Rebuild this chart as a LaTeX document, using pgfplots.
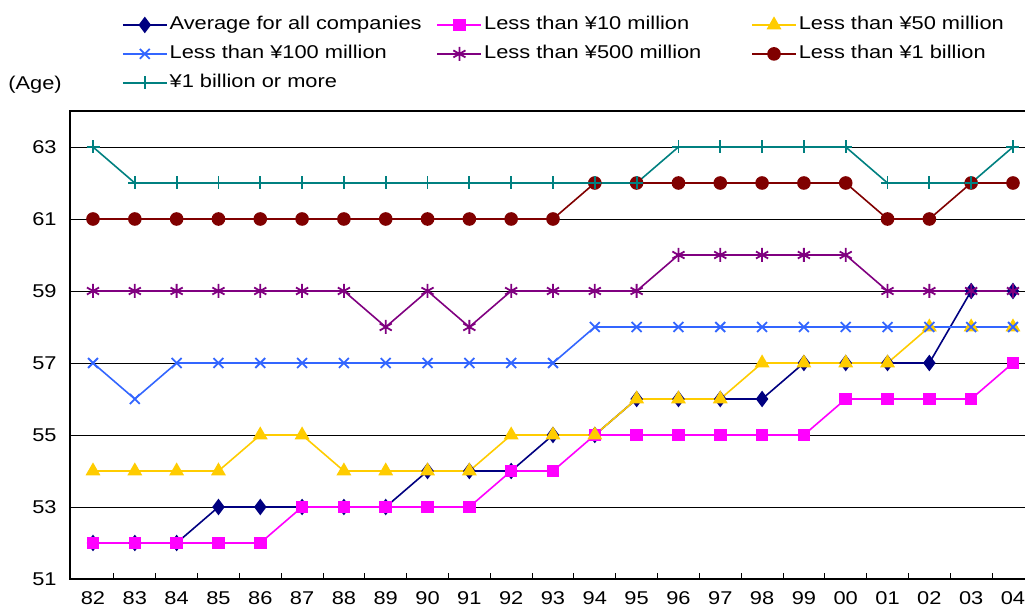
\documentclass[border=0pt]{standalone}
\usepackage{fontspec}
\setmainfont{Liberation Sans}[FakeStretch=1.18]
\usepackage{pgfplots}
\usepackage{pgfplotstable}
\pgfplotsset{compat=1.18}

\definecolor{cavg}{RGB}{0,0,128}
\definecolor{cten}{RGB}{255,0,255}
\definecolor{cfifty}{RGB}{255,204,0}
\definecolor{chund}{RGB}{51,102,255}
\definecolor{cfive}{RGB}{128,0,128}
\definecolor{cbil}{RGB}{128,0,0}
\definecolor{cover}{RGB}{0,128,128}

% average age of company presidents by capital size, 1982-2004
\pgfplotstableread{
x  avg ten fifty hund five bil over
0  52  52  54    57   59   61  63
1  52  52  54    56   59   61  62
2  52  52  54    57   59   61  62
3  53  52  54    57   59   61  62
4  53  52  55    57   59   61  62
5  53  53  55    57   59   61  62
6  53  53  54    57   59   61  62
7  53  53  54    57   58   61  62
8  54  53  54    57   59   61  62
9  54  53  54    57   58   61  62
10 54  54  55    57   59   61  62
11 55  54  55    57   59   61  62
12 55  55  55    58   59   62  62
13 56  55  56    58   59   62  62
14 56  55  56    58   60   62  63
15 56  55  56    58   60   62  63
16 56  55  57    58   60   62  63
17 57  55  57    58   60   62  63
18 57  56  57    58   60   62  63
19 57  56  57    58   59   61  62
20 57  56  58    58   59   61  62
21 59  56  58    58   59   62  62
22 59  57  58    58   59   62  63
}\agedata

\newcommand{\entry}[1]{\makebox[265pt][l]{#1}}

\begin{document}
\fontsize{18.5pt}{22pt}\selectfont
\begin{tikzpicture}
\path[use as bounding box] (0,0) rectangle (1025pt,607pt);
\clip (0,0) rectangle (1025pt,607pt);
\node at (35pt,522pt) {(Age)};
\begin{axis}[
  at={(70pt,28pt)}, anchor=south west,
  scale only axis,
  width=959.7pt, height=468pt,
  xmin=-0.55, xmax=22.4,
  ymin=51, ymax=64,
  axis line style={black, line width=1.3pt},
  xtick={0,...,22},
  xticklabels={82,83,84,85,86,87,88,89,90,91,92,93,94,95,96,97,98,99,00,01,02,03,04},
  minor xtick={0.5,1.5,...,22.5},
  ytick={51,53,...,63},
  major tick length=0pt,
  minor tick length=6pt,
  tick align=inside,
  xtick pos=bottom, ytick pos=left,
  minor tick style={black, line width=0.9pt},
  ymajorgrids,
  major grid style={black, line width=0.9pt},
  /pgf/number format/assume math mode=true,
  xticklabel style={yshift=-6pt},
  yticklabel style={xshift=-7pt},
  every axis plot/.append style={line width=1.6pt},
  legend columns=3,
  legend cell align=left,
  legend style={at={(axis description cs:0.0542,1.2030)}, anchor=north west,
    draw=none, fill=none, inner sep=0pt, outer sep=0pt,
    row sep=11pt, column sep=0pt,
    nodes={inner xsep=2pt, inner ysep=0pt, text height=0.75em, text depth=0.22em}},
  legend image code/.code={\draw[mark repeat=2,mark phase=2]
    plot coordinates {(0pt,0pt) (22pt,0pt) (44pt,0pt)};},
]
\addplot[cavg, mark=diamond*, mark size=7pt, mark options={fill=cavg, solid}] table[x=x,y=avg]{\agedata};
\addlegendentry{\entry{Average for all companies}}
\addplot[cten, mark=square*, mark size=5.5pt, mark options={fill=cten, solid}] table[x=x,y=ten]{\agedata};
\addlegendentry{\entry{Less than ¥10 million}}
\addplot[cfifty, mark=triangle*, mark size=7pt, mark options={fill=cfifty, solid}] table[x=x,y=fifty]{\agedata};
\addlegendentry{\entry{Less than ¥50 million}}
\addplot[chund, mark=x, mark size=7pt, mark options={solid, line width=1.8pt}] table[x=x,y=hund]{\agedata};
\addlegendentry{\entry{Less than ¥100 million}}
\addplot[cfive, mark=asterisk, mark size=7pt, mark options={solid, line width=1.8pt}] table[x=x,y=five]{\agedata};
\addlegendentry{\entry{Less than ¥500 million}}
\addplot[cbil, mark=*, mark size=6pt, mark options={fill=cbil, solid}] table[x=x,y=bil]{\agedata};
\addlegendentry{\entry{Less than ¥1 billion}}
\addplot[cover, mark=+, mark size=6.5pt, mark options={solid, line width=1.8pt}] table[x=x,y=over]{\agedata};
\addlegendentry{\entry{¥1 billion or more}}
\end{axis}
\end{tikzpicture}
\end{document}
